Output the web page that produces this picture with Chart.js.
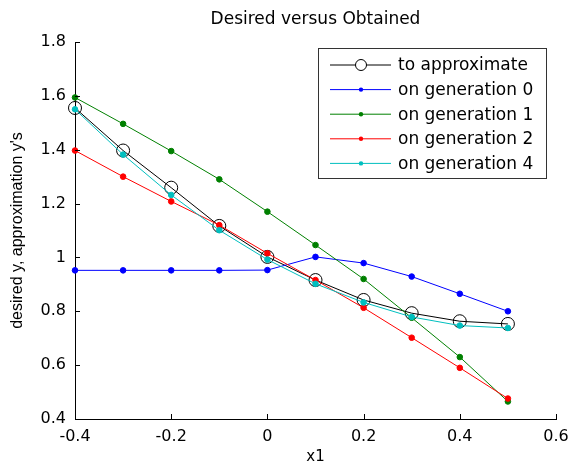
<!DOCTYPE html>
<html>
<head>
<meta charset="utf-8">
<title>Desired versus Obtained</title>
<script src="https://cdn.jsdelivr.net/npm/chart.js@4"></script>
<style>
  body { margin: 0; background: #fff; }
  canvas { display: block; }
</style>
</head>
<body>
<canvas id="chart" width="571" height="469"></canvas>
<script>
// data
const xValues = [-0.4, -0.3, -0.2, -0.1, 0, 0.1, 0.2, 0.3, 0.4, 0.5];
const toApproximate = [1.555, 1.397, 1.259, 1.117, 1.002, 0.916, 0.842, 0.793, 0.763, 0.753];
const generation0 = [0.952, 0.952, 0.952, 0.952, 0.953, 1.002, 0.979, 0.929, 0.865, 0.800];
const generation1 = [1.594, 1.496, 1.395, 1.290, 1.170, 1.046, 0.920, 0.776, 0.630, 0.465];
const generation2 = [1.397, 1.300, 1.208, 1.120, 1.015, 0.916, 0.813, 0.702, 0.590, 0.476];
const generation4 = [1.550, 1.382, 1.232, 1.101, 0.992, 0.902, 0.833, 0.779, 0.747, 0.738];

const xTicks = [-0.4, -0.2, 0, 0.2, 0.4, 0.6];
const xTickLabels = ['-0.4', '-0.2', '0', '0.2', '0.4', '0.6'];
const yTicks = [0.4, 0.6, 0.8, 1.0, 1.2, 1.4, 1.6, 1.8];
const yTickLabels = ['0.4', '0.6', '0.8', '1', '1.2', '1.4', '1.6', '1.8'];

const seriesNames = ['to approximate', 'on generation 0', 'on generation 1', 'on generation 2', 'on generation 4'];

const toPoints = ys => ys.map((y, i) => ({ x: xValues[i], y: y }));

function makeSet(label, ys, color, order, open) {
    return {
        label: label,
        data: toPoints(ys),
        borderColor: color,
        backgroundColor: open ? 'rgba(0,0,0,0)' : color,
        borderWidth: 1,
        pointRadius: open ? 6.5 : 2.8,
        pointBorderWidth: 1,
        pointStyle: 'circle',
        tension: 0,
        clip: false,
        order: order
    };
}

// inward tick marks, like the original
const innerTicks = {
    id: 'innerTicks',
    afterDraw(chart) {
        const ctx = chart.ctx;
        const xs = chart.scales.x, ys = chart.scales.y;
        const a = chart.chartArea;
        ctx.save();
        ctx.strokeStyle = '#000';
        ctx.lineWidth = 1;
        ctx.beginPath();
        xTicks.forEach(v => {
            const px = Math.round(xs.getPixelForValue(v)) + 0.5;
            ctx.moveTo(px, a.bottom);
            ctx.lineTo(px, a.bottom - 5);
        });
        yTicks.forEach(v => {
            const py = Math.round(ys.getPixelForValue(v)) + 0.5;
            ctx.moveTo(a.left, py);
            ctx.lineTo(a.left + 5, py);
        });
        ctx.stroke();
        ctx.restore();
    }
};

// boxed legend inside the axes, top right
const boxLegend = {
    id: 'boxLegend',
    afterDraw(chart) {
        const ctx = chart.ctx;
        const box = { left: 318.5, top: 48.5, right: 546.5, bottom: 178.5 };
        ctx.save();
        ctx.fillStyle = '#fff';
        ctx.fillRect(box.left, box.top, box.right - box.left, box.bottom - box.top);
        ctx.strokeStyle = '#333';
        ctx.lineWidth = 1;
        ctx.strokeRect(box.left, box.top, box.right - box.left, box.bottom - box.top);
        ctx.font = '17px "DejaVu Sans"';
        ctx.textBaseline = 'middle';
        ctx.textAlign = 'left';
        chart.data.datasets.forEach((ds, i) => {
            const y = 65 + i * 24.6;
            ctx.strokeStyle = ds.borderColor;
            ctx.beginPath();
            ctx.moveTo(330, y);
            ctx.lineTo(391, y);
            ctx.stroke();
            ctx.beginPath();
            if (i === 0) {
                ctx.arc(361, y, 5.5, 0, Math.PI * 2);
                ctx.fillStyle = '#fff';
                ctx.fill();
                ctx.stroke();
            } else {
                ctx.arc(361, y, 2.2, 0, Math.PI * 2);
                ctx.fillStyle = ds.borderColor;
                ctx.fill();
            }
            ctx.fillStyle = '#000';
            ctx.fillText(ds.label, 398, y + 1);
        });
        ctx.restore();
    }
};

const ctx = document.getElementById('chart').getContext('2d');
new Chart(ctx, {
    type: 'line',
    data: {
        datasets: [
            makeSet(seriesNames[0], toApproximate, '#000000', 5, true),
            makeSet(seriesNames[1], generation0, '#0000ff', 4, false),
            makeSet(seriesNames[2], generation1, '#008000', 3, false),
            makeSet(seriesNames[3], generation2, '#ff0000', 2, false),
            makeSet(seriesNames[4], generation4, '#00bfbf', 1, false)
        ]
    },
    options: {
        responsive: false,
        animation: false,
        layout: { padding: { left: 0, right: 15, top: 0, bottom: 0 } },
        plugins: {
            legend: { display: false },
            tooltip: { enabled: false },
            title: {
                display: true,
                fullSize: false,
                text: 'Desired versus Obtained',
                color: '#000',
                font: { family: 'DejaVu Sans', size: 17, weight: 'normal' },
                padding: { top: 9, bottom: 12.6 }
            }
        },
        scales: {
            x: {
                type: 'linear',
                min: -0.4,
                max: 0.6,
                afterBuildTicks: s => { s.ticks = xTicks.map(v => ({ value: v })); },
                afterFit: s => { s.height = 50; s.paddingLeft = 0; s.paddingRight = 0; },
                grid: { display: false, drawTicks: false },
                border: { display: true, color: '#000', width: 1 },
                ticks: {
                    color: '#000',
                    padding: 8,
                    maxRotation: 0,
                    font: { family: 'DejaVu Sans', size: 16 },
                    callback: (v, i) => xTickLabels[i]
                },
                title: {
                    display: true,
                    text: 'x1',
                    color: '#000',
                    font: { family: 'DejaVu Sans', size: 15 },
                    padding: { top: 0, bottom: 3 }
                }
            },
            y: {
                type: 'linear',
                min: 0.4,
                max: 1.8,
                afterBuildTicks: s => { s.ticks = yTicks.map(v => ({ value: v })); },
                afterFit: s => { s.width = 75; },
                grid: { display: false, drawTicks: false },
                border: { display: true, color: '#000', width: 1 },
                ticks: {
                    color: '#000',
                    padding: 9,
                    font: { family: 'DejaVu Sans', size: 16 },
                    callback: (v, i) => yTickLabels[i]
                },
                title: {
                    display: true,
                    text: "desired y, approximation y's",
                    color: '#000',
                    font: { family: 'Liberation Sans', size: 16 },
                    padding: { top: 8, bottom: 0 }
                }
            }
        }
    },
    plugins: [innerTicks, boxLegend]
});
</script>
</body>
</html>
